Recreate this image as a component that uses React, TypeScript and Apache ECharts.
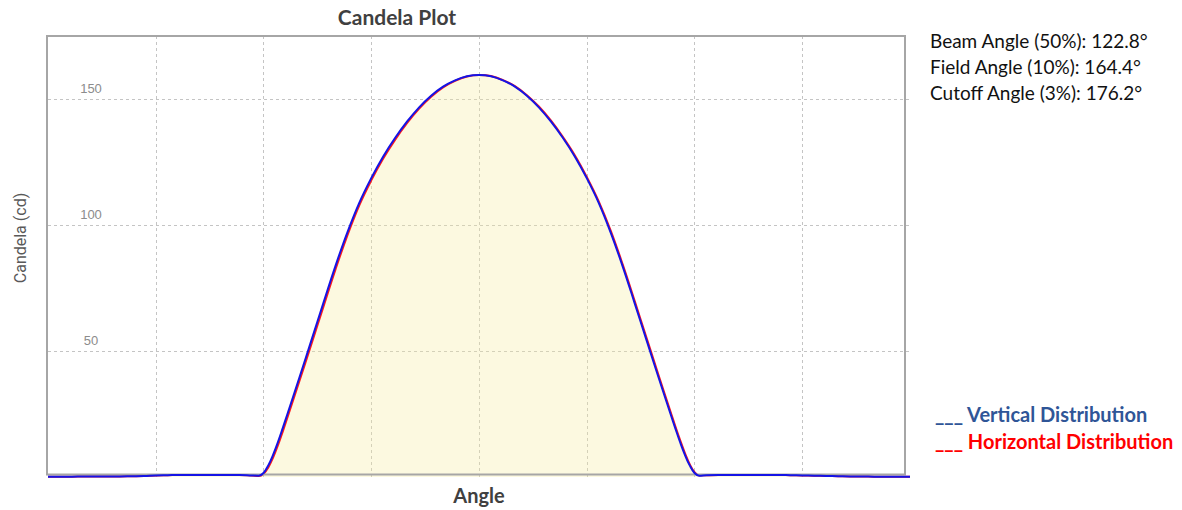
import React, { useEffect, useRef } from "react";
import * as echarts from "echarts";

const angles = [
  -180, -175, -170, -165, -160, -155, -150, -145, -140, -135, -130, -125, -120, -115, -110, -105, -100, -95,
  -92, -90, -88, -86, -84, -82,
  -80, -75, -70, -65, -60, -55, -50, -45, -40, -35, -30, -25, -20, -15, -10, -5, 0,
  5, 10, 15, 20, 25, 30, 35, 40, 45, 50, 55, 60, 65, 70, 75, 80,
  82, 84, 86, 88, 90, 92,
  95, 100, 105, 110, 115, 120, 125, 130, 135, 140, 145, 150, 155, 160, 165, 170, 175, 180,
];

const verticalValues = [
  0.1, 0.1, 0.1, 0.2, 0.2, 0.2, 0.2, 0.3, 0.4, 0.6, 0.7, 0.8, 0.8, 0.8, 0.8, 0.8, 0.8, 0.6,
  0.5, 1.6, 4.6, 8.8, 13.8, 19.3,
  25.0, 39.5, 54.2, 69.0, 83.6, 97.0, 108.8, 118.6, 127.2, 134.6, 141.1, 146.7, 151.3, 154.9, 157.4, 159.0, 159.5,
  159.0, 157.4, 154.9, 151.3, 146.7, 141.1, 134.6, 127.2, 118.6, 108.8, 97.0, 83.6, 69.0, 54.2, 39.5, 25.0,
  19.3, 13.8, 8.8, 4.6, 1.6, 0.5,
  0.7, 0.8, 0.8, 0.8, 0.8, 0.8, 0.8, 0.7, 0.6, 0.5, 0.4, 0.3, 0.2, 0.2, 0.1, 0.1, 0.1, 0.1,
];

const horizontalValues = [
  0.1, 0.1, 0.1, 0.2, 0.2, 0.2, 0.2, 0.3, 0.4, 0.6, 0.7, 0.8, 0.8, 0.8, 0.8, 0.8, 0.8, 0.6,
  0.4, 1.2, 3.8, 7.7, 12.5, 17.9,
  23.6, 38.1, 52.7, 67.5, 82.2, 95.8, 107.8, 117.7, 126.4, 133.9, 140.5, 146.2, 150.9, 154.6, 157.2, 158.9, 159.5,
  159.1, 157.5, 155.1, 151.5, 147.0, 141.5, 135.0, 127.7, 119.1, 109.4, 97.8, 84.4, 69.9, 55.1, 40.4, 25.9,
  20.1, 14.6, 9.5, 5.1, 1.9, 0.6,
  0.7, 0.8, 0.8, 0.8, 0.8, 0.8, 0.8, 0.7, 0.6, 0.5, 0.4, 0.3, 0.2, 0.2, 0.1, 0.1, 0.1, 0.1,
];

const yTickLabels = [50, 100, 150];
const infoLines = [
  "Beam Angle (50%): 122.8°",
  "Field Angle (10%): 164.4°",
  "Cutoff Angle (3%): 176.2°",
];
const seriesNames = ["Vertical Distribution", "Horizontal Distribution"];

export default function App() {
  const ref = useRef<HTMLDivElement>(null);

  useEffect(() => {
    if (!ref.current) return;
    const chart = echarts.init(ref.current, undefined, { renderer: "svg" });
    const vData = angles.map((a, i) => [a, verticalValues[i]]);
    const hData = angles.map((a, i) => [a, horizontalValues[i]]);

    const option: any = {
      animation: false,
      backgroundColor: "#ffffff",
      title: {
        text: "Candela Plot",
        left: 397,
        top: 16,
        padding: 0,
        textAlign: "center",
        textVerticalAlign: "middle",
        textStyle: {
          fontFamily: "Lato",
          fontWeight: "bold",
          fontSize: 21,
          color: "#404040",
        },
      },
      legend: {
        orient: "vertical",
        left: 930,
        top: 404,
        icon: "none",
        itemWidth: 0,
        itemHeight: 20,
        itemGap: 7,
        padding: 0,
        selectedMode: false,
        formatter: "___ {name}",
        textStyle: {
          fontFamily: "Lato",
          fontWeight: "bold",
          fontSize: 20,
        },
        data: [
          { name: seriesNames[0], textStyle: { color: "#2F5597" } },
          { name: seriesNames[1], textStyle: { color: "#FF0000" } },
        ],
      },
      grid: {
        left: 48,
        right: 272,
        top: 36,
        height: 441,
      },
      xAxis: {
        type: "value",
        min: -180,
        max: 180,
        interval: 45,
        name: "Angle",
        nameLocation: "middle",
        nameGap: 18,
        nameTextStyle: {
          fontFamily: "Lato",
          fontWeight: "bold",
          fontSize: 20,
          color: "#404040",
          verticalAlign: "middle",
        },
        axisLine: { show: false },
        axisTick: { show: false },
        axisLabel: { show: false },
        splitLine: {
          show: true,
          showMinLine: false,
          showMaxLine: false,
          lineStyle: { color: "#c4c4c4", type: [3, 3], width: 1 },
        },
      },
      yAxis: {
        type: "value",
        min: 0,
        max: 175,
        interval: 50,
        axisLine: { show: false },
        axisTick: { show: false },
        axisLabel: {
          inside: true,
          margin: 43,
          align: "center",
          verticalAlign: "bottom",
          padding: [0, 0, 4, 0],
          fontFamily: "Liberation Sans",
          fontSize: 13,
          color: "#8c8c8c",
          formatter: (v: number) => (yTickLabels.indexOf(v) >= 0 ? String(v) : ""),
        },
        splitLine: {
          show: true,
          showMinLine: false,
          showMaxLine: false,
          lineStyle: { color: "#c4c4c4", type: [3, 3], width: 1 },
        },
      },
      graphic: [
        {
          type: "rect",
          z: 1.5,
          shape: { x: 47, y: 36, width: 858, height: 438.5 },
          style: { fill: "none", stroke: "#a6a6a6", lineWidth: 2 },
        },
        {
          type: "text",
          x: 20,
          y: 238,
          rotation: Math.PI / 2,
          style: {
            text: "Candela (cd)",
            fontFamily: "Roboto",
            fontSize: 16,
            fill: "#595959",
            align: "center",
            verticalAlign: "middle",
          },
        },
        ...infoLines.map((t, i) => ({
          type: "text",
          x: 930,
          y: 40 + i * 26,
          style: {
            text: t,
            fontFamily: "Lato",
            fontSize: 19,
            fill: "#111111",
            align: "left",
            verticalAlign: "middle",
          },
        })),
      ],
      series: [
        {
          name: seriesNames[1],
          type: "line",
          data: hData,
          z: 1,
          smooth: 0.4,
          symbol: "none",
          clip: false,
          lineStyle: { color: "#FF1A1A", width: 2 },
          itemStyle: { color: "#FF0000" },
          areaStyle: { color: "#F6ED9E", opacity: 0.32 },
        },
        {
          name: seriesNames[0],
          type: "line",
          data: vData,
          z: 2,
          smooth: 0.4,
          symbol: "none",
          clip: false,
          lineStyle: { color: "#1414E6", width: 2 },
          itemStyle: { color: "#2F5597" },
        },
      ],
    };

    chart.setOption(option);
    return () => chart.dispose();
  }, []);

  return (
    <div
      ref={ref}
      style={{ position: "fixed", left: 0, top: 0, width: 1182, height: 510, background: "#fff" }}
    />
  );
}
